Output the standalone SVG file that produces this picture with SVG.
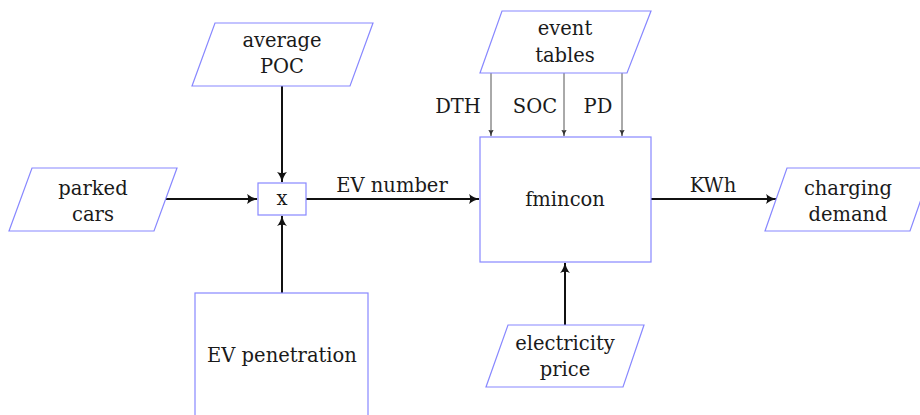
<svg xmlns="http://www.w3.org/2000/svg" width="920" height="415" viewBox="0 0 920 415">
<defs>
<marker id="ah" viewBox="0 0 10 10" refX="9" refY="5" markerWidth="5.5" markerHeight="5.5" orient="auto" markerUnits="strokeWidth">
<path d="M0,0.5 Q4,4 10,5 Q4,6 0,9.5 Q2,5 0,0.5 Z" fill="#111"/>
</marker>
<marker id="ahs" viewBox="0 0 10 10" refX="9" refY="5" markerWidth="7" markerHeight="7" orient="auto" markerUnits="strokeWidth">
<path d="M0,1 Q4,4 10,5 Q4,6 0,9 Q2,5 0,1 Z" fill="#333"/>
</marker>
<style>
.n{fill:#fff;stroke:#8888ff;stroke-width:1.2}
.t{font-family:'DejaVu Serif',serif;font-size:19.5px;fill:#1a1a1a;text-anchor:middle}
.a{stroke:#111;stroke-width:2;fill:none;marker-end:url(#ah)}
.s{stroke:#555;stroke-width:1;fill:none;marker-end:url(#ahs)}
</style>
</defs>
<rect width="920" height="415" fill="#fff"/>
<g id="connectors">
<line class="a" x1="166" y1="199" x2="257" y2="199"/>
<line class="a" x1="282" y1="86" x2="282" y2="182"/>
<line class="a" x1="282" y1="293" x2="282" y2="216"/>
<line class="a" x1="306" y1="199" x2="479" y2="199"/>
<line class="a" x1="651" y1="199" x2="776" y2="199"/>
<line class="a" x1="565" y1="325" x2="565" y2="263"/>
<line class="s" x1="491" y1="73" x2="491" y2="136"/>
<line class="s" x1="564" y1="73" x2="564" y2="136"/>
<line class="s" x1="622" y1="73" x2="622" y2="136"/>
<text class="t" x="392" y="192">EV number</text>
<text class="t" x="713" y="192">KWh</text>
<text class="t" x="458" y="113">DTH</text>
<text class="t" x="535" y="113">SOC</text>
<text class="t" x="598" y="113">PD</text>
</g>
<g id="parked-cars">
<polygon class="n" points="32,168 177,168 154,231 9,231"/>
<text class="t" x="93" y="195">parked</text>
<text class="t" x="93" y="221">cars</text>
</g>
<g id="average-poc">
<polygon class="n" points="215,23 373,23 350,86 192,86"/>
<text class="t" x="282" y="47">average</text>
<text class="t" x="282" y="73">POC</text>
</g>
<g id="multiply">
<rect class="n" x="258" y="183" width="48" height="32"/>
<text class="t" x="282" y="205">x</text>
</g>
<g id="ev-penetration">
<rect class="n" x="195" y="293" width="173" height="130"/>
<text class="t" x="282" y="362">EV penetration</text>
</g>
<g id="event-tables">
<polygon class="n" points="502,11 651,11 627,73 480,73"/>
<text class="t" x="565" y="35">event</text>
<text class="t" x="565" y="62">tables</text>
</g>
<g id="fmincon">
<rect class="n" x="480" y="137" width="171" height="125"/>
<text class="t" x="565" y="206">fmincon</text>
</g>
<g id="electricity-price">
<polygon class="n" points="508,325 644,325 623,387 486,387"/>
<text class="t" x="565" y="350">electricity</text>
<text class="t" x="565" y="376">price</text>
</g>
<g id="charging-demand">
<polygon class="n" points="787,168 932,168 910,231 765,231"/>
<text class="t" x="848" y="195">charging</text>
<text class="t" x="848" y="221">demand</text>
</g>
</svg>
